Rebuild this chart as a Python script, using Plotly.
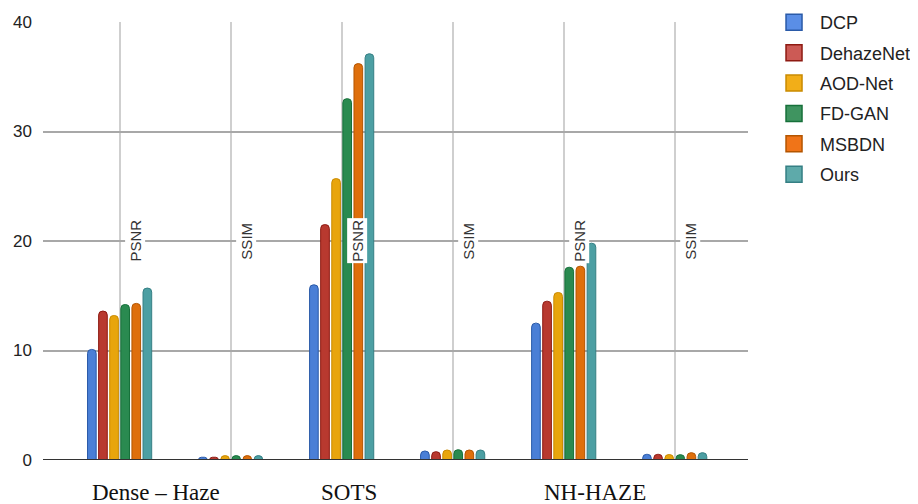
import plotly.graph_objects as go

categories = ["Dense-Haze PSNR", "Dense-Haze SSIM", "SOTS PSNR", "SOTS SSIM", "NH-HAZE PSNR", "NH-HAZE SSIM"]
metric_labels = ["PSNR", "SSIM", "PSNR", "SSIM", "PSNR", "SSIM"]
dataset_labels = ["Dense \u2013 Haze", "SOTS", "NH-HAZE"]
dataset_label_pos = [0.33, 2.07, 4.28]

methods = ["DCP", "DehazeNet", "AOD-Net", "FD-GAN", "MSBDN", "Ours"]
dcp = [10.1, 0.25, 16.0, 0.82, 12.5, 0.52]
dehazenet = [13.6, 0.25, 21.5, 0.76, 14.5, 0.52]
aodnet = [13.2, 0.40, 25.7, 0.91, 15.3, 0.50]
fdgan = [14.2, 0.40, 33.0, 0.94, 17.6, 0.49]
msbdn = [14.3, 0.40, 36.2, 0.91, 17.7, 0.67]
ours = [15.7, 0.40, 37.1, 0.91, 19.8, 0.67]
series = [dcp, dehazenet, aodnet, fdgan, msbdn, ours]

fills = ["#4a7fd6", "#b8392f", "#e8a50c", "#2a8a50", "#de6f0c", "#4c9fa3"]
edges = ["#2a5aa8", "#8e1a12", "#c98a00", "#16703a", "#b45500", "#357f84"]
legend_fills = ["#5a8ee6", "#cc5a55", "#f2ae18", "#3f9460", "#f07418", "#5eaaaa"]

fig = go.Figure()
for i, (name, vals) in enumerate(zip(methods, series)):
    fig.add_trace(go.Bar(
        x=categories, y=vals, name=name, showlegend=False,
        marker=dict(color=fills[i], line=dict(color=edges[i], width=1)),
        legendgroup=name,
    ))
for i, name in enumerate(methods):
    fig.add_trace(go.Scatter(
        x=[None], y=[None], mode="markers", name=name, legendgroup=name,
        marker=dict(symbol="square", size=16, color=legend_fills[i], line=dict(color=edges[i], width=1.5)),
    ))

for i, lab in enumerate(metric_labels):
    fig.add_annotation(
        x=categories[i], y=20, xref="x", yref="y", text=lab, textangle=-90,
        showarrow=False, xshift=15, bgcolor="white",
        font=dict(family="Liberation Sans, Arial", size=15, color="#333"),
    )

for lab, pos in zip(dataset_labels, dataset_label_pos):
    fig.add_annotation(
        x=pos, y=-0.0753, xref="x", yref="paper", text=lab, showarrow=False,
        yanchor="middle", font=dict(family="Liberation Serif, Times New Roman", size=23, color="#111"),
    )

fig.update_layout(
    width=910, height=496,
    margin=dict(l=35, r=170, t=14, b=44, autoexpand=False),
    paper_bgcolor="white", plot_bgcolor="white",
    barmode="group", bargap=0.4, bargroupgap=0.22, barcornerradius=4,
    legend=dict(
        x=1.0284, y=1.041, xanchor="left", yanchor="top",
        font=dict(family="Liberation Sans, Arial", size=18, color="#222"),
        traceorder="grouped", tracegroupgap=4, itemwidth=42,
    ),
    xaxis=dict(
        type="category", range=[-0.69, 5.66], showgrid=True, gridcolor="#cfcfcf", gridwidth=1.5,
        showticklabels=False, ticks="", showline=False, zeroline=False,
    ),
    yaxis=dict(
        range=[0, 40], tickvals=[0, 10, 20, 30, 40], showgrid=True, gridcolor="#a8a8a8", gridwidth=1.5,
        zeroline=False, showline=False, ticks="", ticklabelstandoff=10,
        tickfont=dict(family="Liberation Sans, Arial", size=17, color="#222"),
    ),
    shapes=[dict(type="line", xref="paper", yref="y", x0=0, x1=1, y0=0, y1=0,
                 line=dict(color="#333", width=2))],
)

fig.write_html("out.html")
